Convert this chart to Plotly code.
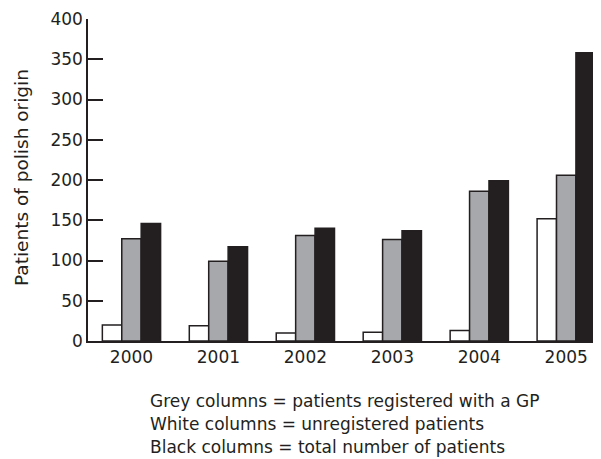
import plotly.graph_objects as go

years = ["2000", "2001", "2002", "2003", "2004", "2005"]
unregistered = [20, 19, 10, 11, 13, 152]
registered = [127, 99, 131, 126, 186, 206]
total = [146, 117, 140, 137, 199, 358]
y_ticks = [0, 50, 100, 150, 200, 250, 300, 350, 400]
note_lines = [
    "Grey columns = patients registered with a GP",
    "White columns = unregistered patients",
    "Black columns = total number of patients",
]

# page is rendered with an 8px body margin; work in page pixels and shift
OFF = 8
PAGE_W, PAGE_H = 601, 459
PLOT_L, PLOT_R, PLOT_T, PLOT_B = 88, 601, 19, 341  # page pixels

W, H = PAGE_W - OFF, PAGE_H - OFF
L, T = PLOT_L - OFF, PLOT_T - OFF
R = W - (PLOT_R - OFF)
B = H - (PLOT_B - OFF)
PW, PH = W - L - R, H - T - B
FONT = "DejaVu Sans"
INK = "#231f20"


def px_to_paper_x(px):
    return (px - PLOT_L) / PW


def py_to_paper_y(py):
    return (PLOT_B - py) / PH


fig = go.Figure()
line = dict(color=INK, width=1.5)
fig.add_trace(go.Bar(x=years, y=unregistered, marker=dict(color="white", line=line), name="Unregistered"))
fig.add_trace(go.Bar(x=years, y=registered, marker=dict(color="#a7a8ab", line=line), name="Registered"))
fig.add_trace(go.Bar(x=years, y=total, marker=dict(color=INK, line=line), name="Total"))

fig.update_layout(
    width=W, height=H,
    margin=dict(l=L, r=R, t=T, b=B, autoexpand=False),
    paper_bgcolor="white", plot_bgcolor="white",
    barmode="group", bargap=0.33, bargroupgap=0,
    showlegend=False,
    font=dict(family=FONT, size=17, color=INK),
)
fig.update_xaxes(
    type="category", range=[-0.5, 5.4], automargin=False,
    showline=True, linecolor=INK, linewidth=1.5,
    ticks="", showgrid=False, tickfont=dict(size=17),
)
fig.update_yaxes(
    range=[0, 400], tickvals=y_ticks, automargin=False,
    showline=True, linecolor=INK, linewidth=1.5,
    ticks="inside", ticklen=15, tickwidth=1.5, tickcolor=INK,
    showgrid=False, zeroline=False,
    tickfont=dict(size=17),
)

fig.add_annotation(
    xref="paper", yref="paper", x=px_to_paper_x(21), y=py_to_paper_y(178),
    xanchor="center", yanchor="middle", textangle=-90, showarrow=False,
    text="Patients of polish origin", font=dict(size=18.5, family=FONT, color=INK),
)

for i, txt in enumerate(note_lines):
    cy = 401 + 23 * i
    fig.add_annotation(
        xref="paper", yref="paper",
        x=px_to_paper_x(148), y=py_to_paper_y(cy),
        xanchor="left", yanchor="middle", align="left", showarrow=False,
        text=txt, font=dict(size=17, family=FONT, color=INK),
    )

fig.write_html("out.html")
